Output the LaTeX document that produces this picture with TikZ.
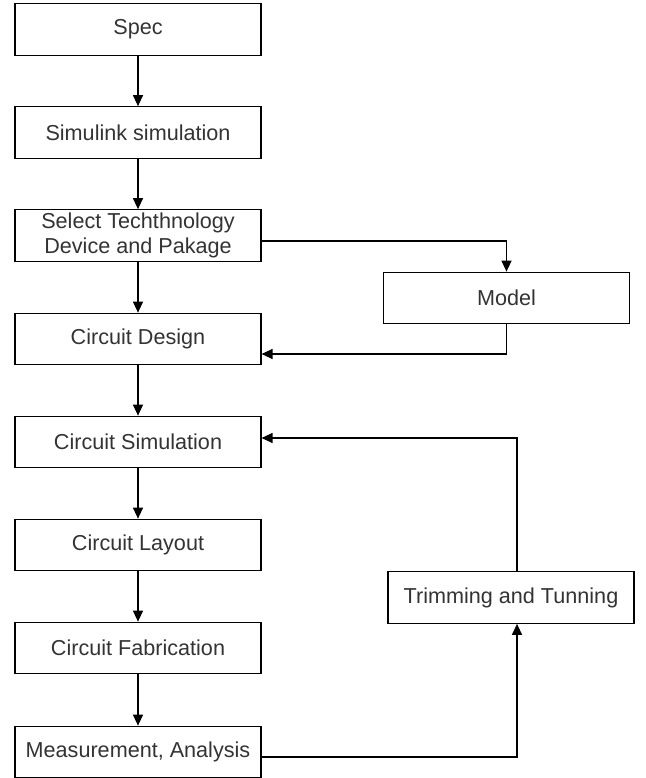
\documentclass[tikz,border=0pt]{standalone}
\usepackage{fontspec}
\setmainfont{Liberation Sans}
\usepackage{tikz}
\usetikzlibrary{arrows.meta}
\tikzset{>={Triangle[length=2.2mm,width=2mm]}}

\begin{document}
\begin{tikzpicture}[x=0.02cm, y=-0.02cm,
    stepbox/.style={draw, line width=0.7pt, minimum width=4.92cm, minimum height=1.03cm,
        inner sep=0pt, align=center, text=black!80,
        font=\fontsize{12.3}{14.6}\selectfont},
    flow/.style={->, line width=0.7pt}]
    \useasboundingbox (0,0) rectangle (646,778);
    % main column
    \node[stepbox] (spec)    at (138,29.5)  {Spec};
    \node[stepbox] (simlink) at (138,132.5) {Simulink simulation};
    \node[stepbox] (seltech) at (138,235.5) {Select Techthnology\\Device and Pakage};
    \node[stepbox] (cirdes)  at (138,339)   {Circuit Design};
    \node[stepbox] (cirsim)  at (138,442)   {Circuit Simulation};
    \node[stepbox] (cirlay)  at (138,545)   {Circuit Layout};
    \node[stepbox] (cirfab)  at (138,648)   {Circuit Fabrication};
    \node[stepbox] (meas)    at (138,752)   {Measurement, Analysis};
    % side boxes
    \node[stepbox] (model) at (506.5,298) {Model};
    \node[stepbox] (trim)  at (511,597.5) {Trimming and Tunning};
    % straight flow
    \draw[flow] (spec) -- (simlink);
    \draw[flow] (simlink) -- (seltech);
    \draw[flow] (seltech) -- (cirdes);
    \draw[flow] (cirdes) -- (cirsim);
    \draw[flow] (cirsim) -- (cirlay);
    \draw[flow] (cirlay) -- (cirfab);
    \draw[flow] (cirfab) -- (meas);
    % model loop
    \draw[flow] ([yshift=-0.11cm]seltech.east) -| (model.north);
    \draw[flow] (model.south) |- ([yshift=-0.3cm]cirdes.east);
    % trimming loop
    \draw[flow] ([yshift=-0.1cm]meas.east) -| ([xshift=0.12cm]trim.south);
    \draw[flow] ([xshift=0.12cm]trim.north) |- ([yshift=0.08cm]cirsim.east);
\end{tikzpicture}
\end{document}
